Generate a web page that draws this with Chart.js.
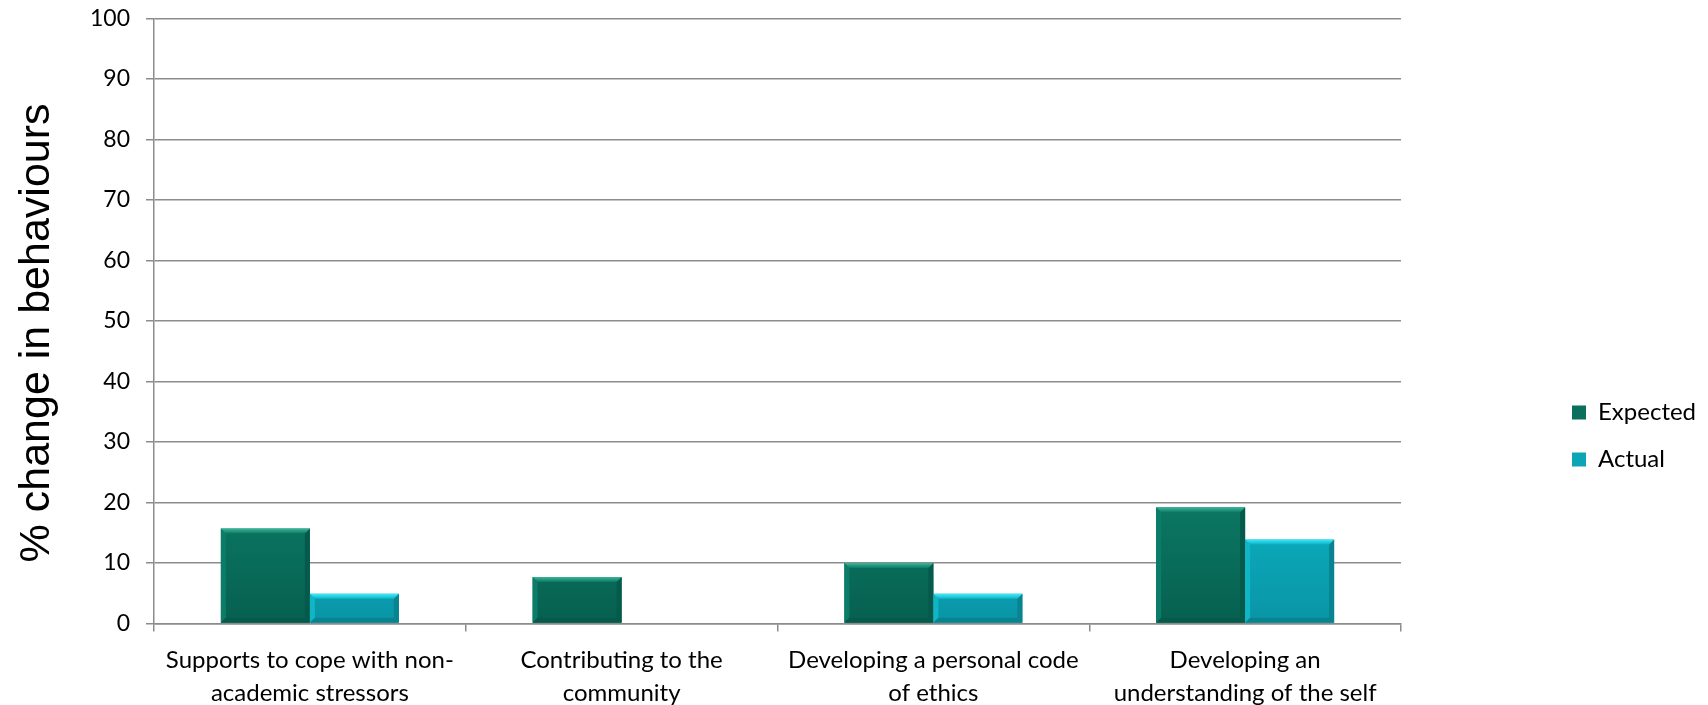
<!DOCTYPE html>
<html>
<head>
<meta charset="utf-8">
<script src="https://cdn.jsdelivr.net/npm/chart.js@4"></script>
<style>
  html, body { margin: 0; padding: 0; background: #ffffff; }
  #wrap { width: 1708px; height: 705px; position: relative; }
</style>
</head>
<body>
<div id="wrap"><canvas id="c" width="1708" height="705"></canvas></div>
<script>
// ---- data ----
const categories = [
  ["Supports to cope with non-", "academic stressors"],
  ["Contributing to the", "community"],
  ["Developing a personal code", "of ethics"],
  ["Developing an", "understanding of the self"]
];
const seriesNames = ["Expected", "Actual"];
const expectedValues = [15.7, 7.7, 10.0, 19.2];
const actualValues = [4.9, 0, 4.9, 13.9];
const yMin = 0;
const yMax = 100;
const yStep = 10;
const yTitle = "% change in behaviours  ";

// ---- styles ----
const FONT = "Lato";
const gridColor = "#8c8c8c";
const palette = {
  expected: { top: "#0b7b67", bottom: "#07604f", bevTop: "#3db698", bevLeft: "#0b7c68", bevRight: "#065a4b", bevBottom: "#065a4b", legend: "#0a6f5d" },
  actual:   { top: "#0cb3c4", bottom: "#0995a6", bevTop: "#40eafa", bevLeft: "#10b6c6", bevRight: "#08838f", bevBottom: "#08838f", legend: "#0ca5b6" }
};

function vGrad(key) {
  return (ctx) => {
    const chart = ctx.chart;
    const area = chart.chartArea;
    if (!area) return palette[key].top;
    const g = chart.ctx.createLinearGradient(0, area.bottom, 0, area.bottom - 140);
    g.addColorStop(0, palette[key].bottom);
    g.addColorStop(1, palette[key].top);
    return g;
  };
}

const bevelPlugin = {
  id: 'bevel',
  afterDatasetsDraw(chart) {
    const c = chart.ctx;
    const keys = ['expected', 'actual'];
    chart.data.datasets.forEach((ds, di) => {
      const meta = chart.getDatasetMeta(di);
      const p = palette[keys[di]];
      meta.data.forEach(el => {
        const { x, y, base, width } = el.getProps(['x', 'y', 'base', 'width'], true);
        const l = x - width / 2, r = x + width / 2, t = Math.min(y, base), b = Math.max(y, base);
        const h = b - t;
        const s = 5;
        if (h < 2 * s + 1) return;
        const poly = (pts, col) => {
          c.beginPath();
          c.moveTo(pts[0][0], pts[0][1]);
          for (let i = 1; i < pts.length; i++) c.lineTo(pts[i][0], pts[i][1]);
          c.closePath();
          c.fillStyle = col;
          c.fill();
        };
        c.save();
        poly([[l, t], [l + s, t + s], [l + s, b - s], [l, b]], p.bevLeft);
        poly([[r, t], [r, b], [r - s, b - s], [r - s, t + s]], p.bevRight);
        poly([[l, b], [l + s, b - s], [r - s, b - s], [r, b]], p.bevBottom);
        const g = c.createLinearGradient(0, t, 0, t + s);
        g.addColorStop(0, p.bevTop);
        g.addColorStop(1, p.top);
        poly([[l, t], [r, t], [r - s, t + s], [l + s, t + s]], g);
        c.restore();
      });
    });
  }
};

// legend width bookkeeping (layout only)
const legendFontSize = 24;
const legendPad = 23;
const legendBox = 14;
const mctx = document.createElement('canvas').getContext('2d');
mctx.font = legendFontSize + "px " + FONT;
const legendTextW = Math.max(...seriesNames.map(n => mctx.measureText(n).width));
const legendW = legendPad + legendBox + legendFontSize / 2 + legendTextW + 10;
const legendLeft = 1572 - legendPad;
const plotRight = 1401;
const padRight = Math.max(0, 1708 - legendLeft - legendW);

new Chart(document.getElementById('c'), {
  type: 'bar',
  data: {
    labels: categories,
    datasets: [
      { label: seriesNames[0], data: expectedValues, backgroundColor: vGrad('expected'), borderWidth: 0 },
      { label: seriesNames[1], data: actualValues, backgroundColor: vGrad('actual'), borderWidth: 0 }
    ]
  },
  plugins: [bevelPlugin],
  options: {
    responsive: false,
    animation: false,
    devicePixelRatio: 1,
    layout: { padding: { top: 18.5, left: 0, bottom: 0, right: padRight } },
    datasets: { bar: { barPercentage: 1.0, categoryPercentage: 0.571 } },
    plugins: {
      tooltip: { enabled: false },
      legend: {
        position: 'right',
        align: 'center',
        title: { display: true, text: ' ', font: { size: 12 }, padding: { top: 134, bottom: 0 } },
        labels: {
          boxWidth: legendBox,
          boxHeight: legendBox,
          padding: legendPad,
          color: '#000000',
          font: { family: FONT, size: legendFontSize },
          generateLabels(chart) {
            const items = Chart.defaults.plugins.legend.labels.generateLabels(chart);
            const cols = [palette.expected.legend, palette.actual.legend];
            items.forEach((it, i) => { it.fillStyle = cols[i]; it.strokeStyle = cols[i]; it.lineWidth = 0; });
            return items;
          }
        }
      }
    },
    scales: {
      x: {
        grid: { display: true, drawOnChartArea: false, drawTicks: true, tickLength: 8, color: gridColor, lineWidth: 1.5, offset: true },
        border: { display: true, color: gridColor, width: 1.5 },
        ticks: { color: '#000000', font: { family: FONT, size: 24, lineHeight: '33px' }, padding: 12, maxRotation: 0, autoSkip: false },
        afterFit(s) { s.height = 705 - 623.5; s.paddingLeft = 0; s.paddingRight = 0; }
      },
      y: {
        min: yMin, max: yMax,
        grid: { color: gridColor, lineWidth: 1.5, drawTicks: true, tickLength: 8 },
        border: { display: true, color: gridColor, width: 1.5 },
        ticks: { stepSize: yStep, color: '#000000', font: { family: FONT, size: 23 }, padding: 16 },
        title: { display: true, text: yTitle, color: '#000000', font: { family: 'Liberation Sans', size: 43 }, padding: { top: 11, bottom: 0 } },
        afterFit(s) { s.width = 154; s.paddingTop = 0; s.paddingBottom = 0; }
      },
      spacer: {
        type: 'linear',
        position: 'right',
        display: true,
        grid: { display: false, drawTicks: false },
        border: { display: false },
        ticks: { display: false },
        afterFit(s) { s.width = legendLeft - plotRight; s.paddingTop = 0; s.paddingBottom = 0; }
      }
    }
  }
});
</script>
</body>
</html>
